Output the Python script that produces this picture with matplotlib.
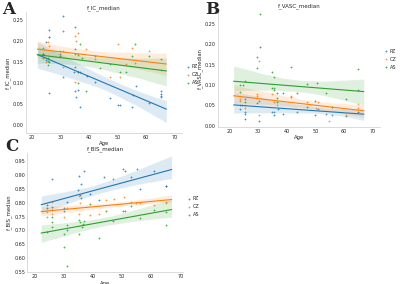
import numpy as np
import matplotlib
matplotlib.use("Agg")
import matplotlib.pyplot as plt
import seaborn as sns

# --- data ---
groups = ["PZ", "CZ", "AS"]

# panel A: f_IC_median
a_pz_age = [31, 26, 25, 35, 26, 35, 36, 35.5, 37, 34.8, 39.4, 42, 47.3, 50.2, 51, 55.5, 56.4, 55.2, 61, 65, 65, 65, 24, 26, 30, 25, 36, 24]
a_pz_val = [0.26, 0.227, 0.197, 0.234, 0.075, 0.080, 0.084, 0.066, 0.043, 0.125, 0.117, 0.102, 0.063, 0.047, 0.047, 0.071, 0.093, 0.043, 0.052, 0.080, 0.074, 0.068, 0.16, 0.15, 0.17, 0.155, 0.125, 0.17]
a_cz_age = [26, 25.8, 26, 35, 36, 35.5, 36.3, 39, 31, 24, 24, 42, 50, 55.2, 61, 65, 47.3, 50.7, 35, 31, 53, 56, 25]
a_cz_val = [0.209, 0.199, 0.189, 0.213, 0.219, 0.2, 0.17, 0.18, 0.176, 0.168, 0.16, 0.156, 0.194, 0.184, 0.176, 0.131, 0.115, 0.115, 0.102, 0.139, 0.146, 0.148, 0.15]
a_as_age = [31, 26, 24, 24, 25.8, 25.8, 25.8, 30, 30, 35, 35, 36.3, 37.4, 37, 35, 36, 37, 30.8, 36, 39, 44, 47.3, 50.8, 53, 56, 55.2, 61, 65, 65, 42]
a_as_val = [0.225, 0.211, 0.184, 0.168, 0.16, 0.152, 0.143, 0.176, 0.164, 0.18, 0.168, 0.166, 0.16, 0.193, 0.139, 0.125, 0.127, 0.115, 0.1, 0.08, 0.135, 0.145, 0.127, 0.127, 0.193, 0.164, 0.164, 0.156, 0.067, 0.164]

# panel B: f_VASC_median
b_pz_age = [30.6, 30.4, 25.4, 25.4, 25.4, 23.5, 23.5, 24.3, 29.7, 34.7, 35.5, 35.5, 37, 38.8, 41.6, 43.6, 46.9, 49.7, 50.9, 53.6, 55.6, 60.7, 64.8]
b_pz_val = [0.195, 0.011, 0.016, 0.03, 0.034, 0.05, 0.042, 0.05, 0.056, 0.035, 0.034, 0.026, 0.04, 0.03, 0.07, 0.034, 0.046, 0.026, 0.04, 0.03, 0.027, 0.024, 0.035]
b_cz_age = [30.4, 30.4, 23.5, 23.5, 25.4, 25.4, 29.7, 29.7, 34.7, 35.5, 36.7, 41.3, 46.9, 50.1, 54.7, 55.6, 60.7, 64.8, 64.8, 50.9]
b_cz_val = [0.159, 0.026, 0.066, 0.062, 0.05, 0.044, 0.078, 0.074, 0.078, 0.058, 0.05, 0.074, 0.058, 0.044, 0.011, 0.046, 0.026, 0.054, 0.044, 0.058]
b_as_age = [30.6, 29.7, 29.7, 34.7, 35.5, 41.6, 64.8, 25.4, 23.5, 24.6, 23.5, 35, 35.5, 35.5, 36.7, 38.8, 43.6, 46.9, 50.5, 53.6, 60.7, 64.8, 25.4, 25.4, 30.4, 36.7, 36.7, 49.7, 55.6]
b_as_val = [0.274, 0.169, 0.143, 0.132, 0.119, 0.145, 0.139, 0.11, 0.1, 0.1, 0.082, 0.094, 0.092, 0.089, 0.081, 0.081, 0.081, 0.102, 0.106, 0.081, 0.065, 0.089, 0.066, 0.058, 0.062, 0.068, 0.058, 0.062, 0.046]

# panel C: f_BIS_median
c_pz_age = [26, 35.2, 37.1, 36.1, 35, 35.5, 36.1, 39, 44, 47, 50.2, 51, 53, 55, 56.2, 61, 65, 65, 24.3, 24.3, 26, 26, 30, 30, 31.1, 42, 31.1]
c_pz_val = [0.887, 0.897, 0.915, 0.866, 0.845, 0.829, 0.816, 0.832, 0.893, 0.884, 0.922, 0.913, 0.893, 0.922, 0.85, 0.915, 0.862, 0.86, 0.792, 0.78, 0.785, 0.775, 0.78, 0.77, 0.804, 0.81, 0.70]
c_cz_age = [26, 35.2, 35.7, 24.3, 24.3, 26, 30, 31.1, 35.2, 39, 42, 44.4, 47.2, 50.7, 53, 54.7, 56.2, 61, 65, 65]
c_cz_val = [0.804, 0.825, 0.798, 0.767, 0.748, 0.76, 0.75, 0.78, 0.76, 0.757, 0.76, 0.81, 0.813, 0.82, 0.804, 0.798, 0.80, 0.792, 0.804, 0.80]
c_as_age = [24.3, 26, 26, 26, 30, 30, 31.1, 31.1, 35.2, 35.2, 35.7, 36.3, 36.8, 37.1, 39, 42, 44.4, 47, 50.5, 51, 53, 56.2, 61, 65, 65]
c_as_val = [0.695, 0.748, 0.73, 0.714, 0.689, 0.639, 0.571, 0.718, 0.689, 0.738, 0.73, 0.714, 0.724, 0.733, 0.794, 0.674, 0.77, 0.733, 0.77, 0.77, 0.788, 0.746, 0.773, 0.765, 0.718]

panels = [
    ("A", "f_IC_median", [(a_pz_age, a_pz_val), (a_cz_age, a_cz_val), (a_as_age, a_as_val)],
     [0.065, 0.532, 0.39, 0.426], (18, 72.5), (-0.02, 0.27), np.arange(0, 0.26, 0.05), (0.005, 0.995), (1.0, 0.48)),
    ("B", "f_VASC_median", [(b_pz_age, b_pz_val), (b_cz_age, b_cz_val), (b_as_age, b_as_val)],
     [0.545, 0.553, 0.405, 0.412], (16, 72.5), (-0.003, 0.285), np.arange(0, 0.26, 0.05), (0.513, 0.995), (1.0, 0.58)),
    ("C", "f_BIS_median", [(c_pz_age, c_pz_val), (c_cz_age, c_cz_val), (c_as_age, c_as_val)],
     [0.068, 0.042, 0.39, 0.42], (17.5, 71), (0.55, 0.98), np.arange(0.55, 0.96, 0.05), (0.012, 0.515), (1.0, 0.55)),
]

colors = sns.color_palette()[:3]
sns.set_style("white")
plt.rcParams['font.family'] = ['DejaVu Sans']

fig = plt.figure(figsize=(4.0, 2.84), dpi=100)

for letter, name, series, rect, xl, yl, yt, lpos, legpos in panels:
    ax = fig.add_axes(rect)
    for (ages, vals), g, c in zip(series, groups, colors):
        sns.regplot(x=np.array(ages), y=np.array(vals), ax=ax, color=c, truncate=False,
                    label=g, marker="+",
                    scatter_kws={"s": 4, "linewidths": 0.6},
                    line_kws={"lw": 0.8})
    ax.set_xlim(*xl)
    ax.set_ylim(*yl)
    ax.set_xticks([20, 30, 40, 50, 60, 70])
    ax.set_yticks(yt)
    ax.yaxis.set_major_formatter(matplotlib.ticker.FormatStrFormatter("%.2f"))
    ax.tick_params(labelsize=3.5, length=0, pad=1.5)
    ax.set_title(name, fontsize=4, pad=2)
    ax.set_xlabel("Age", fontsize=3.8, labelpad=1)
    ax.set_ylabel(name, fontsize=3.8, labelpad=1.5)
    sns.despine(ax=ax)
    for s in ["left", "bottom"]:
        ax.spines[s].set_linewidth(0.5)
        ax.spines[s].set_color("#cccccc")
    ax.legend(loc="center left", bbox_to_anchor=legpos, frameon=False, fontsize=3.5,
              handlelength=0.6, handletextpad=0.5, labelspacing=0.6, markerscale=1.0)
    fig.text(lpos[0], lpos[1], letter, fontsize=12, fontweight="bold", family="DejaVu Serif",
             ha="left", va="top")

fig.savefig("out.png", dpi=100)
